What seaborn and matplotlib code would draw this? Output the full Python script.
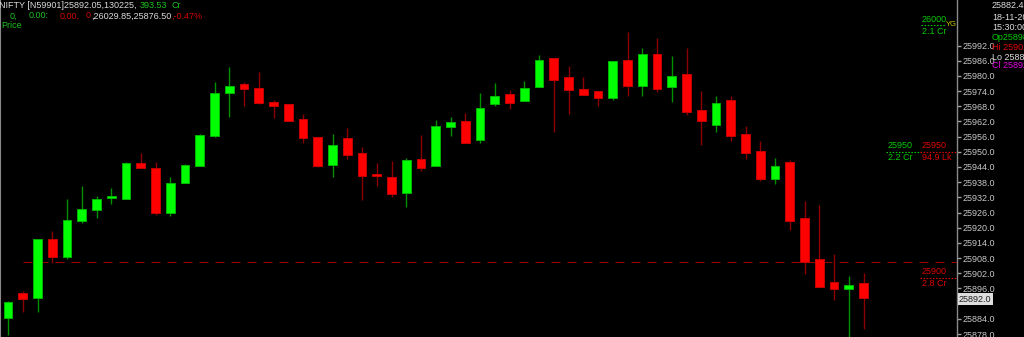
import matplotlib
matplotlib.use("Agg")
import matplotlib.pyplot as plt
import numpy as np
import pandas as pd
import seaborn as sns

# ---------------- data ----------------
opens = [25884.3, 25894.2, 25892.2, 25915.6, 25908.4, 25922.7, 25927.0, 25931.8, 25931.4, 25945.6,
         25943.6, 25925.8, 25937.7, 25944.4, 25956.3, 25973.2, 25976.8, 25975.2, 25969.7, 25968.9,
         25963.0, 25955.9, 25944.8, 25955.5, 25949.5, 25941.2, 25940.0, 25933.7, 25947.2, 25944.4,
         25959.8, 25962.2, 25954.7, 25968.9, 25972.8, 25970.1, 25975.6, 25987.1, 25979.6, 25974.8,
         25974.0, 25971.3, 25986.3, 25976.0, 25988.6, 25975.6, 25980.7, 25966.5, 25960.6, 25970.5,
         25957.0, 25950.3, 25939.3, 25946.0, 25923.8, 25907.6, 25898.6, 25895.8, 25898.0]
highs = [25891.1, 25895.0, 25915.6, 25918.7, 25931.4, 25936.5, 25932.5, 25935.7, 25946.0, 25949.5,
         25946.0, 25940.0, 25945.2, 25957.0, 25977.6, 25983.5, 25977.6, 25981.5, 25970.5, 25968.9,
         25964.9, 25955.9, 25957.0, 25959.4, 25951.9, 25945.6, 25946.4, 25947.6, 25956.6, 25962.6,
         25963.8, 25965.3, 25973.2, 25977.2, 25974.4, 25978.0, 25988.2, 25987.1, 25983.9, 25979.6,
         25974.0, 25985.9, 25997.3, 25991.0, 25995.0, 25987.9, 25991.0, 25974.0, 25972.1, 25972.1,
         25960.2, 25954.3, 25947.6, 25946.8, 25930.6, 25929.0, 25909.6, 25900.9, 25902.0]
lows = [25877.6, 25886.7, 25886.7, 25906.1, 25907.6, 25921.9, 25923.8, 25929.4, 25931.4, 25943.6,
        25925.0, 25924.6, 25937.7, 25944.4, 25955.9, 25963.8, 25968.1, 25968.9, 25963.4, 25962.2,
        25953.5, 25944.0, 25940.0, 25947.2, 25931.0, 25936.5, 25932.1, 25928.2, 25942.4, 25944.4,
        25956.3, 25953.5, 25953.5, 25968.1, 25966.9, 25970.1, 25975.6, 25957.8, 25964.9, 25972.4,
        25968.1, 25970.5, 25972.1, 25972.1, 25973.6, 25969.7, 25964.5, 25952.7, 25957.8, 25954.3,
        25947.2, 25938.5, 25937.3, 25919.1, 25901.7, 25896.6, 25891.4, 25876.5, 25880.0]
closes = [25890.7, 25891.8, 25915.6, 25908.4, 25923.1, 25927.4, 25931.4, 25932.1, 25945.6, 25943.6,
          25925.8, 25937.7, 25944.8, 25956.6, 25973.2, 25976.0, 25974.8, 25969.3, 25968.1, 25962.2,
          25955.5, 25944.4, 25952.7, 25948.7, 25940.4, 25940.4, 25933.3, 25946.8, 25943.6, 25960.2,
          25961.8, 25953.5, 25967.3, 25972.1, 25969.3, 25975.2, 25986.3, 25978.4, 25974.4, 25972.4,
          25971.3, 25985.9, 25976.0, 25988.6, 25974.8, 25980.0, 25965.7, 25962.2, 25969.3, 25956.3,
          25949.5, 25939.3, 25944.4, 25922.7, 25906.5, 25896.6, 25895.8, 25897.4, 25892.05]

ytick_values = [25992, 25986, 25980, 25974, 25968, 25962, 25956, 25950, 25944, 25938,
                25932, 25926, 25920, 25914, 25908, 25902, 25896, 25884, 25878]
last_price = 25892.0
ref_line = 25906.5
level_high = 26000
level_mid = 25950
level_low = 25900

header_line1 = "NIFTY [N59901]25892.05,130225,"
header_value = "393.53"
header_unit = "Cr"
header_line2 = ["0,", "0.00:", "0.00,", "0", ",26029.85,25876.50", ",-0.47%"]
info_texts = ["25882.42", "18-11-2025", "15:30:00", "Op25898.20", "Hi 25902.35", "Lo 25880.10", "Cl 25892.05"]

df = pd.DataFrame({"open": opens, "high": highs, "low": lows, "close": closes})
df["idx"] = np.arange(len(df))
df["up"] = df["close"] >= df["open"]

# ---------------- style ----------------
sns.set_theme(style="dark", rc={"axes.facecolor": "black", "figure.facecolor": "black",
                                "axes.edgecolor": "#808080", "axes.grid": False})
plt.rcParams["font.family"] = ["Liberation Sans", "DejaVu Sans"]

W, H = 1024, 337
fig = plt.figure(figsize=(W / 100, H / 100), dpi=100)
fig.patch.set_facecolor("black")
AX_R = 957
ax = fig.add_axes([0, 0, AX_R / W, 1])
ax.set_facecolor("black")

STEP = 14.75
ax.set_xlim((0 - 8) / STEP, (AX_R - 8) / STEP)
ax.set_ylim(25876.83, 26009.98)

GREEN_BODY, GREEN_EDGE, GREEN_WICK = "#00ff00", "#00b400", "#009000"
RED_BODY, RED_EDGE, RED_WICK = "#ff0000", "#c80000", "#8c0000"

wick_colors = [GREEN_WICK if u else RED_WICK for u in df["up"]]
ax.vlines(df["idx"], df["low"], df["high"], colors=wick_colors, lw=1.0, zorder=2)

bottoms = np.minimum(df["open"], df["close"])
heights = np.maximum(np.abs(df["close"] - df["open"]), 0.7)
faces = [GREEN_BODY if u else RED_BODY for u in df["up"]]
edges = [GREEN_EDGE if u else RED_EDGE for u in df["up"]]
ax.bar(df["idx"], heights, bottom=bottoms, width=0.6, color=faces, edgecolor=edges,
       linewidth=0.7, zorder=3)

# reference dashed line
ax.axhline(ref_line, xmin=23 / AX_R, xmax=1, color="#9a0000", lw=0.72,
           ls=(0, (9, 7)), zorder=1)

# level dotted lines
ax.axhline(level_high, xmin=921 / AX_R, xmax=945 / AX_R, color="#00cc00", lw=0.8, ls=(0, (1.4, 1.4)))
ax.axhline(level_mid, xmin=886 / AX_R, xmax=920 / AX_R, color="#00cc00", lw=0.8, ls=(0, (1.4, 1.4)))
ax.axhline(level_mid, xmin=920 / AX_R, xmax=1, color="#dd0000", lw=0.8, ls=(0, (1.4, 1.4)))
ax.axhline(level_low, xmin=920 / AX_R, xmax=1, color="#dd0000", lw=0.8, ls=(0, (1.4, 1.4)))

# axes / ticks
for s in ["top", "bottom"]:
    ax.spines[s].set_visible(False)
ax.spines["left"].set_color("#8a8a8a")
ax.spines["right"].set_color("#8a8a8a")
ax.spines["left"].set_linewidth(1.5)
ax.spines["right"].set_linewidth(1.0)
ax.set_xticks([])
ax.yaxis.tick_right()
ax.set_yticks(ytick_values)
ax.set_yticklabels([f"{v:.1f}" for v in ytick_values])
ax.tick_params(axis="y", which="major", direction="out", length=3, width=1, pad=1,
               color="#a0a0a0", labelcolor="#c8c8c8", labelsize=6.5, right=True, left=False)

def fx(px):
    return px / W

def fy(py):
    return 1 - py / H

FS = 6.5
HG, HR, HW = "#1fc01f", "#d00000", "#dcdcdc"
# header
fig.text(fx(-1), fy(5), header_line1, color=HW, fontsize=FS, va="center", ha="left")
fig.text(fx(140), fy(5), header_value, color=HG, fontsize=FS, va="center", ha="left")
fig.text(fx(172), fy(5), header_unit, color=HG, fontsize=FS, va="center", ha="left")
l2_x = [10, 29, 60, 86, 91, 171]
l2_c = [HG, HG, HR, HR, HW, HR]
for t, x, c in zip(header_line2, l2_x, l2_c):
    fig.text(fx(x), fy(16), t, color=c, fontsize=FS, va="center", ha="left")
fig.text(fx(1), fy(26), "Price", color=HG, fontsize=FS, va="center", ha="left")

# level labels
LG, LR = "#00cc00", "#dd0000"
fig.text(fx(922), fy(19), f"{level_high}", color=LG, fontsize=FS, va="center", ha="left")
fig.text(fx(922), fy(32), "2.1 Cr", color=LG, fontsize=FS, va="center", ha="left")
fig.text(fx(946), fy(25), "YG", color="#c8c800", fontsize=5.5, va="center", ha="left")
fig.text(fx(888), fy(145), f"{level_mid}", color=LG, fontsize=FS, va="center", ha="left")
fig.text(fx(922), fy(145), f"{level_mid}", color=LR, fontsize=FS, va="center", ha="left")
fig.text(fx(888), fy(157), "2.2 Cr", color=LG, fontsize=FS, va="center", ha="left")
fig.text(fx(922), fy(157), "94.9 Lk", color=LR, fontsize=FS, va="center", ha="left")
fig.text(fx(922), fy(272), f"{level_low}", color=LR, fontsize=FS, va="center", ha="left")
fig.text(fx(922), fy(284), "2.8 Cr", color=LR, fontsize=FS, va="center", ha="left")

# last price highlight
fig.text(fx(959), fy(299), f"{last_price:.1f}", color="#202020", fontsize=FS, va="center", ha="left",
         bbox=dict(facecolor="#dedede", edgecolor="none", boxstyle="square,pad=0.15"))

# right info panel
info_y = [6, 17, 27, 38, 47, 57, 66]
info_c = [HW, HW, HW, "#00cc00", "#e00000", HW, "#e000e0"]
for t, y, c in zip(info_texts, info_y, info_c):
    fig.text(fx(992), fy(y), t, color=c, fontsize=FS, va="center", ha="left")

fig.savefig("out.png", dpi=100, facecolor="black")
